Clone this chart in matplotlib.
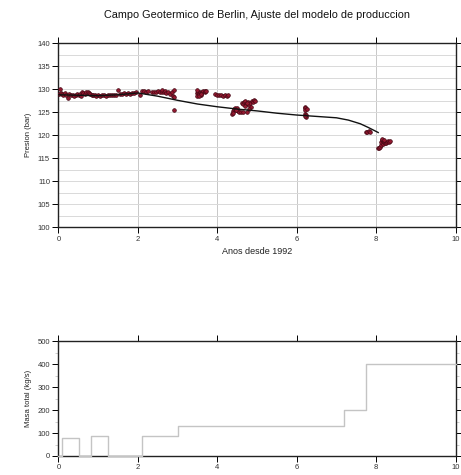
import matplotlib.pyplot as plt
from matplotlib.ticker import MultipleLocator

# observed pressures (years since 1992, bar)
t_obs = [0.02, 0.05, 0.08, 0.1, 0.13, 0.16, 0.2, 0.25, 0.28, 0.32, 0.36, 0.4, 0.44, 0.48,
         0.52, 0.55, 0.58, 0.6, 0.63, 0.66, 0.7, 0.74, 0.77, 0.8, 0.84, 0.88, 0.92, 0.96,
         1.0, 1.05, 1.1, 1.15, 1.2, 1.25, 1.3, 1.35, 1.4, 1.45, 1.5, 1.55, 1.6, 1.65, 1.7,
         1.75, 1.8, 1.85, 1.9, 1.95,
         2.05, 2.1, 2.15, 2.2, 2.25, 2.35, 2.4, 2.45, 2.5, 2.55, 2.6, 2.62, 2.65, 2.68,
         2.72, 2.75, 2.8, 2.85, 2.88, 2.9, 2.9, 2.92,
         3.48, 3.5, 3.52, 3.54, 3.56, 3.58, 3.6, 3.62, 3.65, 3.68, 3.7, 3.72, 3.5, 3.55, 3.6,
         3.95, 4.0, 4.05, 4.1, 4.15, 4.2, 4.25, 4.28,
         4.38, 4.4, 4.42, 4.45, 4.48, 4.5, 4.52, 4.55, 4.4, 4.46, 4.6, 4.65,
         4.62, 4.65, 4.68, 4.7, 4.72, 4.75, 4.78, 4.8, 4.82, 4.85, 4.88, 4.9, 4.92, 4.95,
         4.7, 4.75, 4.8,
         6.2, 6.21, 6.22, 6.22, 6.23, 6.24, 6.25, 6.2,
         7.75, 7.78, 7.82, 7.85,
         8.05, 8.08, 8.1, 8.12, 8.13, 8.15, 8.17, 8.18, 8.2, 8.22, 8.25, 8.28, 8.3, 8.33,
         8.35, 8.15, 8.2]
p_obs = [129.0, 130.0, 129.2, 128.9, 128.8, 129.1, 128.8, 128.0, 128.9, 128.7, 128.8, 128.6,
         128.7, 128.9, 128.8, 129.0, 128.5, 129.3, 129.1, 128.9, 129.4, 129.3, 129.2, 129.0,
         128.8, 128.7, 128.8, 128.6, 128.7, 128.6, 128.7, 128.7, 128.6, 128.7, 128.7, 128.8,
         128.7, 128.8, 129.9, 129.0, 129.0, 129.1, 129.0, 129.1, 129.0, 129.1, 129.2, 129.3,
         128.8, 129.6, 129.7, 129.5, 129.6, 129.3, 129.5, 129.4, 129.6, 129.4, 129.3, 129.8,
         129.5, 129.6, 129.2, 129.5, 128.9, 129.4, 128.6, 125.6, 129.8, 128.3,
         129.2, 128.6, 129.5, 128.9, 129.3, 128.8, 129.1, 129.4, 129.6, 129.5, 129.7, 129.6,
         129.8, 128.5, 129.0,
         128.9, 128.8, 128.7, 128.8, 128.6, 128.7, 128.6, 128.8,
         124.6, 125.2, 125.8, 126.0, 125.5, 125.9, 125.3, 125.0, 124.9, 125.6, 125.1, 125.0,
         127.0, 126.8, 127.2, 127.4, 126.9, 125.0, 127.3, 126.5, 127.0, 126.2, 127.5, 127.2,
         127.6, 127.4, 126.4, 127.1, 125.8,
         126.1, 125.9, 125.6, 124.6, 124.3, 124.0, 125.8, 124.2,
         120.7, 120.8, 120.9, 120.8,
         117.2, 117.3, 117.5, 117.8, 118.5, 119.0, 118.2, 118.8, 118.6, 118.4, 118.3, 118.5,
         118.7, 118.5, 118.7, 119.2, 118.9]

# fitted model
t_mod = [0, 0.5, 1.0, 1.5, 2.0, 2.5, 3.0, 3.5, 4.0, 4.5, 5.0, 5.5, 6.0, 6.5, 7.0, 7.3,
         7.6, 7.8, 8.05]
p_mod = [128.8, 128.7, 128.6, 128.8, 129.2, 128.5, 127.6, 126.8, 126.2, 125.7, 125.3,
         124.8, 124.4, 124.1, 123.8, 123.3, 122.5, 121.7, 120.6]

# total extracted mass (kg/s)
t_mass = [0, 0.1, 0.52, 0.83, 1.25, 2.1, 3.02, 7.2, 7.75, 10]
m_mass = [0, 78, 0, 87, 0, 87, 130, 200, 400, 400]

plt.rcParams['font.family'] = 'Liberation Sans'

fig = plt.figure(figsize=(4.61, 4.75), dpi=100)
ax1 = fig.add_axes([0.1265, 0.5215, 0.862, 0.3874])
ax2 = fig.add_axes([0.1265, 0.04, 0.862, 0.2415])

# pressure panel
ax1.grid(True, which='both', axis='y', color='#d9d9d9', lw=0.7)
ax1.grid(True, which='major', axis='x', color='#c8c8c8', lw=0.7)
ax1.scatter(t_obs, p_obs, s=7, c='#951830', edgecolors='#420814', linewidths=0.5, zorder=3)
ax1.plot(t_mod, p_mod, color='#111111', lw=1.0, zorder=4)
ax1.set_xlim(0, 10)
ax1.set_ylim(100, 140)
ax1.xaxis.set_major_locator(MultipleLocator(2))
ax1.yaxis.set_major_locator(MultipleLocator(5))
ax1.yaxis.set_minor_locator(MultipleLocator(2.5))
ax1.tick_params(which='minor', length=0)
ax1.set_xlabel('Anos desde 1992', fontsize=6.5, labelpad=3, color='#222222')
ax1.set_ylabel('Presion (bar)', fontsize=5.5, labelpad=4, color='#222222')
ax1.set_title('Campo Geotermico de Berlin, Ajuste del modelo de produccion',
              fontsize=7.8, pad=18, color='#111111')

# mass panel
ax2.plot(t_mass, m_mass, drawstyle='steps-post', color='#c4c4c4', lw=1.0, zorder=3,
         clip_on=False)
ax2.set_xlim(0, 10)
ax2.set_ylim(0, 500)
ax2.xaxis.set_major_locator(MultipleLocator(2))
ax2.yaxis.set_major_locator(MultipleLocator(100))
ax2.yaxis.set_minor_locator(MultipleLocator(50))
ax2.tick_params(which='minor', length=2.5, width=0.5, color='#bbbbbb', right=True)
ax2.set_ylabel('Masa total (kg/s)', fontsize=5.5, labelpad=4, color='#222222')

for ax in (ax1, ax2):
    ax.tick_params(which='major', direction='out', length=4, width=0.7, top=True,
                   right=True, labelsize=5.5, pad=2, labelcolor='#333333')
    for sp in ax.spines.values():
        sp.set_linewidth(1.0)
        sp.set_color('#222222')

fig.savefig('out.png', dpi=100)
